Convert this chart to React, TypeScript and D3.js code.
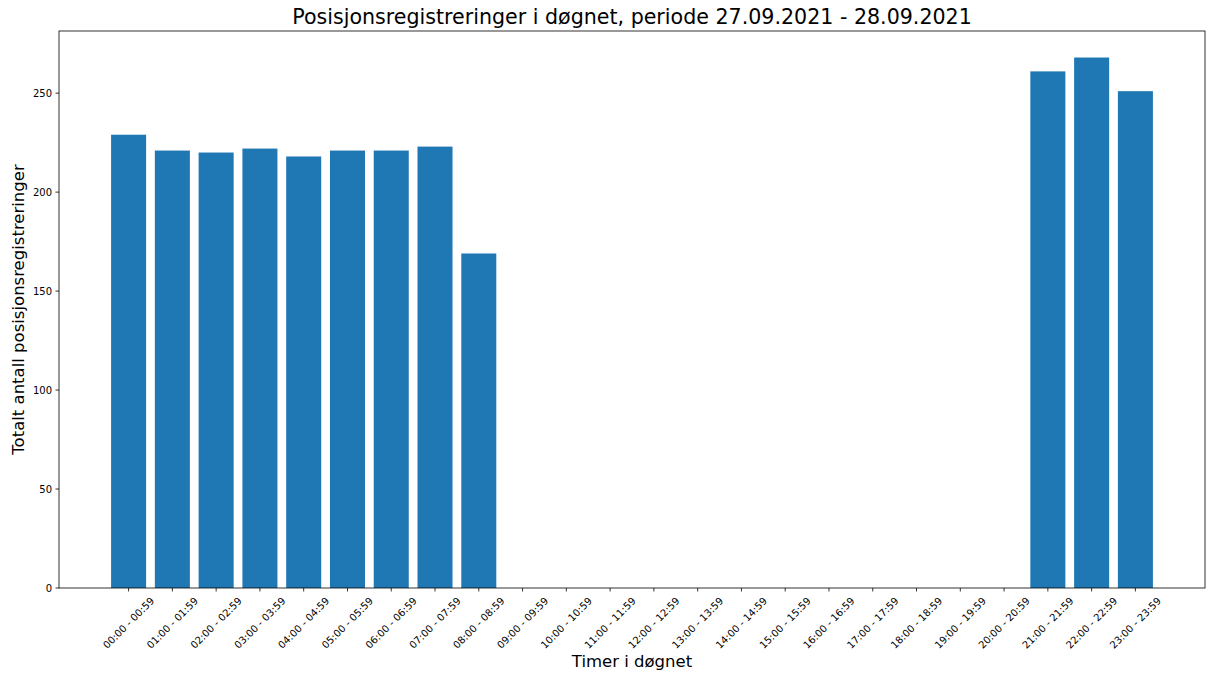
import React, { useEffect, useRef } from 'react';
import * as d3 from 'd3';

const hours: string[] = [
  '00:00 - 00:59', '01:00 - 01:59', '02:00 - 02:59', '03:00 - 03:59',
  '04:00 - 04:59', '05:00 - 05:59', '06:00 - 06:59', '07:00 - 07:59',
  '08:00 - 08:59', '09:00 - 09:59', '10:00 - 10:59', '11:00 - 11:59',
  '12:00 - 12:59', '13:00 - 13:59', '14:00 - 14:59', '15:00 - 15:59',
  '16:00 - 16:59', '17:00 - 17:59', '18:00 - 18:59', '19:00 - 19:59',
  '20:00 - 20:59', '21:00 - 21:59', '22:00 - 22:59', '23:00 - 23:59',
];

const counts: number[] = [
  229, 221, 220, 222, 218, 221, 221, 223, 169, 0, 0, 0,
  0, 0, 0, 0, 0, 0, 0, 0, 0, 261, 268, 251,
];

const yTicks: number[] = [0, 50, 100, 150, 200, 250];

const titleText = 'Posisjonsregistreringer i døgnet, periode 27.09.2021 - 28.09.2021';
const xLabel = 'Timer i døgnet';
const yLabel = 'Totalt antall posisjonsregistreringer';

const W = 1206;
const H = 675;

const App = () => {
  const ref = useRef<SVGSVGElement>(null);

  useEffect(() => {
    const margin = { top: 31, right: 1, bottom: 87, left: 59 };
    const width = W - margin.left - margin.right;
    const height = H - margin.top - margin.bottom;
    const font = 'DejaVu Sans, sans-serif';

    const svg = d3.select(ref.current);
    svg.selectAll('*').remove();

    const chart = svg.append('g').attr('transform', `translate(${margin.left},${margin.top})`);

    // matplotlib-like: bars at integer positions, width 0.8, 5% margins
    const n = hours.length;
    const lo = -0.4;
    const hi = n - 1 + 0.4;
    const pad = (hi - lo) * 0.05;
    const x = d3.scaleLinear().domain([lo - pad, hi + pad]).range([0, width]);
    const yMax = (d3.max(counts) as number) * 1.05;
    const y = d3.scaleLinear().domain([0, yMax]).range([height, 0]);

    chart
      .selectAll('rect.bar')
      .data(counts)
      .enter()
      .append('rect')
      .attr('class', 'bar')
      .attr('x', (d, i) => x(i - 0.4))
      .attr('width', x(0.8) - x(0))
      .attr('y', (d) => y(d))
      .attr('height', (d) => height - y(d))
      .attr('fill', '#1f77b4');

    // frame
    chart
      .append('rect')
      .attr('x', 0)
      .attr('y', 0)
      .attr('width', width)
      .attr('height', height)
      .attr('fill', 'none')
      .attr('stroke', '#000')
      .attr('stroke-width', 0.8);

    // y axis ticks
    const yg = chart.append('g');
    yTicks.forEach((t) => {
      yg.append('line')
        .attr('x1', -3.5)
        .attr('x2', 0)
        .attr('y1', y(t))
        .attr('y2', y(t))
        .attr('stroke', '#000')
        .attr('stroke-width', 0.8);
      yg.append('text')
        .attr('x', -7)
        .attr('y', y(t))
        .attr('dy', '0.35em')
        .attr('text-anchor', 'end')
        .attr('font-family', font)
        .attr('font-size', 10)
        .attr('fill', '#000')
        .text(t);
    });

    // x axis ticks, labels rotated 45 and centered on tick
    const xg = chart.append('g').attr('transform', `translate(0,${height})`);
    hours.forEach((h, i) => {
      xg.append('line')
        .attr('x1', x(i))
        .attr('x2', x(i))
        .attr('y1', 0)
        .attr('y2', 3.5)
        .attr('stroke', '#000')
        .attr('stroke-width', 0.8);
      xg.append('text')
        .attr('transform', `translate(${x(i)},${35}) rotate(-45)`)
        .attr('text-anchor', 'middle')
        .attr('dy', '0.35em')
        .attr('font-family', font)
        .attr('font-size', 10)
        .attr('fill', '#000')
        .text(h);
    });

    svg
      .append('text')
      .attr('x', margin.left + width / 2)
      .attr('y', 24)
      .attr('text-anchor', 'middle')
      .attr('font-family', font)
      .attr('font-size', 20.6)
      .attr('fill', '#000')
      .text(titleText);

    svg
      .append('text')
      .attr('x', margin.left + width / 2)
      .attr('y', 667)
      .attr('text-anchor', 'middle')
      .attr('font-family', font)
      .attr('font-size', 16.5)
      .attr('fill', '#000')
      .text(xLabel);

    svg
      .append('text')
      .attr('transform', `translate(24,${margin.top + height / 2}) rotate(-90)`)
      .attr('text-anchor', 'middle')
      .attr('font-family', font)
      .attr('font-size', 16.5)
      .attr('fill', '#000')
      .text(yLabel);
  }, []);

  return (
    <svg
      ref={ref}
      width={W}
      height={H}
      style={{ position: 'absolute', left: 0, top: 0, background: '#fff' }}
    ></svg>
  );
};

export default App;
